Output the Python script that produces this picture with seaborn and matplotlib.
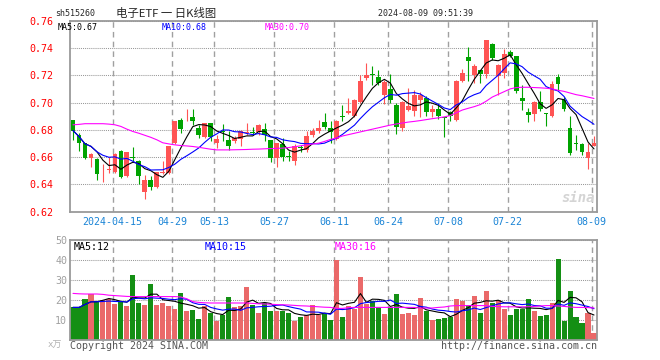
import numpy as np
import pandas as pd
import matplotlib
matplotlib.use('Agg')
import matplotlib.pyplot as plt
import seaborn as sns

# Daily candles of sh515260, 2024-04-02 .. 2024-08-09
opens = [0.6874, 0.6764, 0.6705, 0.6597, 0.6587, 0.6480, 0.6505, 0.6494, 0.6646, 0.6462,
         0.6602, 0.6575, 0.6347, 0.6435, 0.6379, 0.6482, 0.6482, 0.6707, 0.6874, 0.6892,
         0.6894, 0.6813, 0.6744, 0.6847, 0.6700, 0.6789, 0.6727, 0.6715, 0.6734, 0.6781,
         0.6786, 0.6783, 0.6808, 0.6727, 0.6592, 0.6695, 0.6607, 0.6568, 0.6673, 0.6653,
         0.6759, 0.6788, 0.6857, 0.6813, 0.6734, 0.6899, 0.6923, 0.6899, 0.7004, 0.7180,
         0.7210, 0.7185, 0.7053, 0.7102, 0.6984, 0.6813, 0.6948, 0.6940, 0.7021, 0.7033,
         0.6928, 0.6955, 0.6896, 0.6928, 0.6874, 0.7161, 0.7333, 0.7200, 0.7242, 0.7210,
         0.7430, 0.7193, 0.7217, 0.7372, 0.7340, 0.7033, 0.6930, 0.6916, 0.7001, 0.6923,
         0.6899, 0.7185, 0.7021, 0.6813, 0.6705, 0.6695, 0.6597, 0.6685]
highs = [0.6874, 0.6776, 0.6705, 0.6629, 0.6590, 0.6550, 0.6600, 0.6629, 0.6653, 0.6641,
         0.6673, 0.6578, 0.6470, 0.6460, 0.6489, 0.6575, 0.6683, 0.6867, 0.6886, 0.6952,
         0.6952, 0.6837, 0.6847, 0.6847, 0.6764, 0.6845, 0.6788, 0.6752, 0.6800, 0.6850,
         0.6818, 0.6842, 0.6847, 0.6727, 0.6702, 0.6739, 0.6646, 0.6695, 0.6690, 0.6793,
         0.6813, 0.6874, 0.6923, 0.6867, 0.6874, 0.6984, 0.7033, 0.7026, 0.7200, 0.7291,
         0.7271, 0.7242, 0.7168, 0.7210, 0.6997, 0.7009, 0.7107, 0.7095, 0.7077, 0.7046,
         0.6984, 0.6997, 0.6896, 0.6935, 0.7166, 0.7247, 0.7406, 0.7283, 0.7242, 0.7462,
         0.7438, 0.7283, 0.7394, 0.7384, 0.7340, 0.7131, 0.6960, 0.7009, 0.7082, 0.6923,
         0.7156, 0.7210, 0.7038, 0.6899, 0.6764, 0.6702, 0.6702, 0.6752]
lows = [0.6727, 0.6646, 0.6588, 0.6531, 0.6433, 0.6420, 0.6487, 0.6485, 0.6445, 0.6455,
        0.6568, 0.6400, 0.6296, 0.6359, 0.6372, 0.6477, 0.6475, 0.6695, 0.6776, 0.6867,
        0.6837, 0.6739, 0.6739, 0.6720, 0.6666, 0.6720, 0.6653, 0.6703, 0.6678, 0.6759,
        0.6764, 0.6764, 0.6715, 0.6563, 0.6531, 0.6568, 0.6568, 0.6543, 0.6641, 0.6641,
        0.6751, 0.6776, 0.6808, 0.6703, 0.6727, 0.6867, 0.6916, 0.6891, 0.6997, 0.7168,
        0.7126, 0.7126, 0.6989, 0.6997, 0.6771, 0.6788, 0.6935, 0.6899, 0.6891, 0.6899,
        0.6891, 0.6881, 0.6751, 0.6867, 0.6862, 0.7151, 0.7161, 0.7144, 0.7144, 0.7180,
        0.7315, 0.7058, 0.7180, 0.7333, 0.7070, 0.6948, 0.6857, 0.6867, 0.6935, 0.6825,
        0.6891, 0.7095, 0.6935, 0.6617, 0.6653, 0.6612, 0.6514, 0.6678]
closes = [0.6795, 0.6707, 0.6592, 0.6622, 0.6479, 0.6486, 0.6512, 0.6622, 0.6455, 0.6634,
          0.6590, 0.6462, 0.6435, 0.6381, 0.6489, 0.6492, 0.6683, 0.6862, 0.6808, 0.6897,
          0.6867, 0.6759, 0.6847, 0.6751, 0.6734, 0.6781, 0.6678, 0.6740, 0.6793, 0.6786,
          0.6780, 0.6837, 0.6759, 0.6592, 0.6702, 0.6604, 0.6602, 0.6683, 0.6666, 0.6756,
          0.6788, 0.6813, 0.6818, 0.6783, 0.6867, 0.6891, 0.6940, 0.7021, 0.7161, 0.7200,
          0.7200, 0.7141, 0.7149, 0.7021, 0.6818, 0.7004, 0.6977, 0.7058, 0.7058, 0.6928,
          0.6955, 0.6899, 0.6886, 0.6903, 0.7161, 0.7217, 0.7303, 0.7266, 0.7210, 0.7455,
          0.7327, 0.7274, 0.7357, 0.7340, 0.7087, 0.7009, 0.6906, 0.7001, 0.6955, 0.6916,
          0.7139, 0.7139, 0.6955, 0.6629, 0.6698, 0.6636, 0.6636, 0.6703]
# volume in 万手
volumes = [16.3, 16.3, 20.7, 23.0, 19.3, 20.0, 20.7, 17.8, 18.8, 17.2,
           32.7, 18.7, 17.7, 28.2, 17.3, 18.7, 16.8, 15.7, 23.7, 14.3,
           15.2, 10.7, 17.2, 13.3, 9.7, 12.7, 21.7, 16.3, 17.2, 26.7,
           17.7, 13.7, 18.5, 14.7, 14.3, 14.3, 13.5, 9.7, 11.3, 12.7,
           17.3, 12.7, 13.2, 9.8, 40.2, 11.7, 16.8, 15.7, 31.7, 18.2,
           19.7, 16.3, 13.2, 16.3, 23.2, 13.2, 13.7, 12.7, 21.2, 14.7,
           10.2, 10.7, 11.0, 11.7, 20.7, 19.7, 17.7, 22.2, 13.7, 24.7,
           18.7, 20.2, 15.7, 12.7, 15.7, 15.7, 20.7, 14.7, 12.2, 12.7,
           18.7, 40.7, 9.7, 24.7, 11.7, 8.7, 13.7, 3.7]
price_ma30 = [0.6837, 0.6840, 0.6845, 0.6845, 0.6845, 0.6845, 0.6842, 0.6837, 0.6825, 0.6805,
              0.6788, 0.6775, 0.6760, 0.6745, 0.6727, 0.6705, 0.6697, 0.6690, 0.6685, 0.6682,
              0.6678, 0.6672, 0.6665, 0.6658, 0.6653, 0.6653, 0.6653, 0.6654, 0.6655, 0.6656,
              0.6658, 0.6659, 0.6661, 0.6663, 0.6664, 0.6666, 0.6670, 0.6676, 0.6683, 0.6690,
              0.6696, 0.6702, 0.6715, 0.6730, 0.6740, 0.6755, 0.6765, 0.6775, 0.6785, 0.6795,
              0.6805, 0.6815, 0.6825, 0.6835, 0.6843, 0.6850, 0.6857, 0.6862, 0.6868, 0.6875,
              0.6882, 0.6888, 0.6895, 0.6905, 0.6925, 0.6945, 0.6958, 0.6970, 0.6985, 0.7010,
              0.7040, 0.7060, 0.7080, 0.7100, 0.7110, 0.7112, 0.7112, 0.7110, 0.7108, 0.7105,
              0.7100, 0.7090, 0.7082, 0.7070, 0.7058, 0.7050, 0.7040, 0.7030]
volume_ma30 = [23.3, 23.1, 23.0, 23.0, 23.0, 22.8, 22.4, 22.2, 22.0, 21.8,
               21.7, 21.7, 21.7, 21.7, 21.7, 21.7, 21.7, 21.7, 21.5, 20.6,
               19.2, 18.8, 18.6, 18.5, 18.5, 18.5, 18.5, 18.5, 18.5, 18.5,
               18.3, 18.1, 18.0, 17.9, 17.7, 17.6, 17.5, 17.3, 17.1, 17.0,
               16.8, 16.6, 16.4, 16.3, 15.8, 15.8, 16.2, 16.3, 16.3, 16.3,
               16.3, 16.3, 16.3, 16.3, 16.3, 16.3, 16.3, 16.3, 16.0, 16.0,
               16.0, 16.3, 16.5, 17.0, 17.2, 17.2, 17.2, 17.2, 17.2, 17.2,
               16.8, 16.7, 16.6, 16.6, 16.6, 16.6, 16.6, 16.8, 17.0, 17.2,
               17.2, 17.0, 16.8, 16.5, 16.3, 16.3, 16.2, 16.0]

tick_index = [7, 17, 24, 34, 44, 53, 63, 73, 87]
tick_labels = ['2024-04-15', '04-29', '05-13', '05-27', '06-11', '06-24', '07-08', '07-22', '08-09']
price_ticks = [0.62, 0.64, 0.66, 0.68, 0.70, 0.72, 0.74, 0.76]
volume_ticks = [10, 20, 30, 40, 50]

RED = '#ff5454'
GREEN = '#00a300'
GRID = '#a0a0a0'
DOT = '#999999'
FRAME = '#9a9a9a'
MA_COLORS = {'MA5': 'black', 'MA10': '#0000ff', 'MA30': '#ff00ff'}

W, H = 660, 360


def fig_pos(x, y):
    """Pixel position (origin top-left) -> figure fraction."""
    return x / W, 1 - y / H


def style_frame(ax):
    for spine in ax.spines.values():
        spine.set_color(FRAME)
        spine.set_linewidth(1.3)
    ax.set_xlim(-0.5, len(closes) - 0.5)
    ax.set_xlabel('')
    ax.set_ylabel('')
    for t in tick_index:
        ax.axvline(t - 0.4, color=GRID, linewidth=1.0, linestyle=(0, (4, 3)), zorder=1)
    # dotted horizontal grid at the y ticks
    ax.set_axisbelow(True)
    ax.yaxis.grid(True, color=DOT, linewidth=0.75, linestyle=(0, (1, 1)))
    ax.xaxis.grid(False)


def draw_candles(ax, df):
    colors = np.where(df['close'] >= df['open'], RED, GREEN)
    ax.vlines(df['idx'], df['low'], df['high'], colors=colors, linewidth=0.8, zorder=2)
    body = (df['close'] - df['open']).abs()
    min_h = 0.0006
    bottom = np.minimum(df['open'], df['close']) - np.clip(min_h - body, 0, None) / 2
    ax.bar(df['idx'], np.maximum(body, min_h), bottom=bottom, width=0.8,
           color=colors, linewidth=0, zorder=3)


def main():
    sns.set_style('white')
    plt.rcParams['font.family'] = ['DejaVu Sans Mono', 'Noto Sans CJK SC']

    df = pd.DataFrame({'idx': np.arange(len(closes)), 'open': opens, 'high': highs,
                       'low': lows, 'close': closes, 'volume': volumes})
    df['dir'] = np.where(df['close'] >= df['open'], 'up', 'down')
    df['MA5'] = df['close'].rolling(5, min_periods=1).mean()
    df['MA10'] = df['close'].rolling(10, min_periods=1).mean()
    df['MA30'] = price_ma30
    df['VMA5'] = df['volume'].rolling(5, min_periods=1).mean()
    df['VMA10'] = df['volume'].rolling(10, min_periods=1).mean()
    df['VMA30'] = volume_ma30

    fig = plt.figure(figsize=(6.6, 3.6), dpi=100)
    ax_p = fig.add_axes([70 / W, 1 - 211.7 / H, 527 / W, 191 / H])
    ax_v = fig.add_axes([70 / W, 1 - 340 / H, 527 / W, 100 / H])

    # price panel
    draw_candles(ax_p, df)
    for name, col in MA_COLORS.items():
        sns.lineplot(data=df, x='idx', y=name, color=col, linewidth=0.8, ax=ax_p, zorder=4)
    style_frame(ax_p)
    ax_p.set_ylim(0.62, 0.76)
    ax_p.set_yticks(price_ticks)
    ax_p.set_yticklabels([f'{v:.2f}' for v in price_ticks], color='#ff0000', fontsize=7.2)
    ax_p.set_xticks([t - 0.4 for t in tick_index])
    ax_p.set_xticklabels(tick_labels, color='#1a84d6', fontsize=7.2)
    ax_p.tick_params(axis='y', length=0, pad=12)
    ax_p.tick_params(axis='x', length=0, pad=3.5)

    # volume panel
    sns.barplot(data=df, x='idx', y='volume', hue='dir', palette={'up': RED, 'down': GREEN},
                native_scale=True, dodge=False, width=0.85, errorbar=None, legend=False,
                linewidth=0, ax=ax_v, zorder=2)
    for name, col in zip(['VMA5', 'VMA10', 'VMA30'], MA_COLORS.values()):
        sns.lineplot(data=df, x='idx', y=name, color=col, linewidth=0.8, ax=ax_v, zorder=4)
    style_frame(ax_v)
    ax_v.set_ylim(0, 50)
    ax_v.set_yticks(volume_ticks)
    ax_v.set_yticklabels([str(v) for v in volume_ticks], color='#a0a0a0', fontsize=7.2)
    ax_v.set_xticks([])
    ax_v.tick_params(axis='y', length=0, pad=2)

    # header and legends
    fig.text(*fig_pos(55, 13), 'sh515260', fontsize=6, va='center', ha='left')
    fig.text(*fig_pos(166, 13), '电子ETF 一 日K线图', fontsize=8.2, va='center', ha='center',
             family=['Noto Sans CJK SC', 'DejaVu Sans'])
    fig.text(*fig_pos(473, 13), '2024-08-09 09:51:39', fontsize=6, va='center', ha='right')
    fig.text(*fig_pos(58, 27), 'MA5:0.67', fontsize=6, va='center', color='black')
    fig.text(*fig_pos(162, 27), 'MA10:0.68', fontsize=6, va='center', color='#0000ff')
    fig.text(*fig_pos(265, 27), 'MA30:0.70', fontsize=6, va='center', color='#ff00ff')
    fig.text(*fig_pos(74, 247), 'MA5:12', fontsize=7.2, va='center', color='black')
    fig.text(*fig_pos(205, 247), 'MA10:15', fontsize=7.2, va='center', color='#0000ff')
    fig.text(*fig_pos(335, 247), 'MA30:16', fontsize=7.2, va='center', color='#ff00ff')
    fig.text(*fig_pos(595, 198), 'sina', fontsize=10, va='center', ha='right',
             color='#d4d4d4', style='italic', weight='bold')
    fig.text(*fig_pos(48, 345), 'x万', fontsize=6.5, va='center', color='#b0b0b0')
    fig.text(*fig_pos(70, 346), 'Copyright 2024 SINA.COM', fontsize=7.2, va='center', color='#555555')
    fig.text(*fig_pos(597, 346), 'http://finance.sina.com.cn', fontsize=7.2, va='center',
             ha='right', color='#555555')

    fig.savefig('out.png', dpi=100, facecolor='white')
    plt.close(fig)


if __name__ == '__main__':
    main()
